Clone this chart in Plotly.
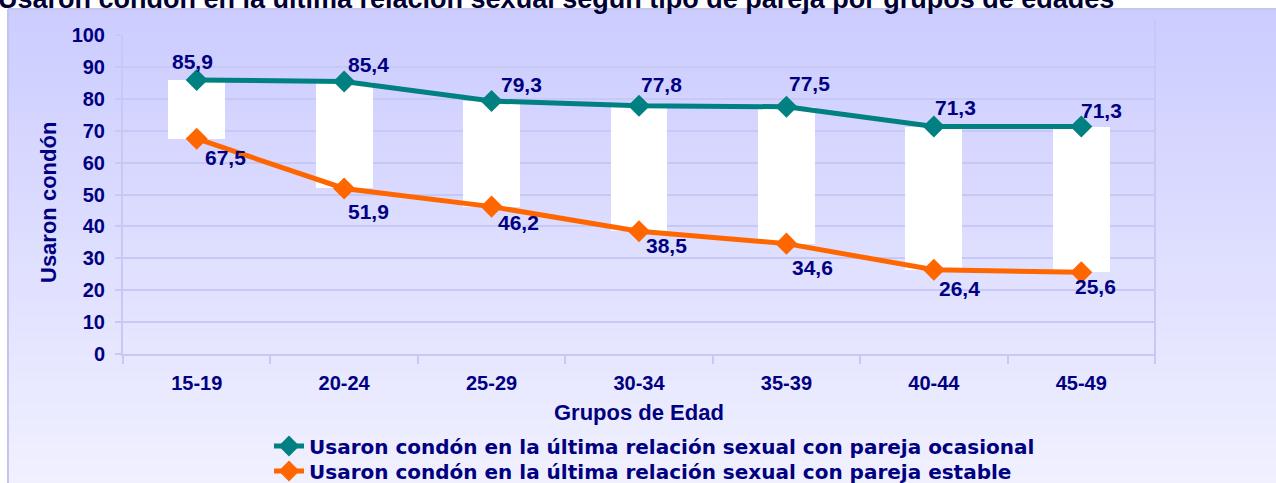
import plotly.graph_objects as go

categories = ["15-19", "20-24", "25-29", "30-34", "35-39", "40-44", "45-49"]
ocasional = [85.9, 85.4, 79.3, 77.8, 77.5, 71.3, 71.3]
estable = [67.5, 51.9, 46.2, 38.5, 34.6, 26.4, 25.6]
y_ticks = [0, 10, 20, 30, 40, 50, 60, 70, 80, 90, 100]

name_oc = "Usaron condón en la última relación sexual con pareja ocasional"
name_es = "Usaron condón en la última relación sexual con pareja estable"
title_text = "Usaron condón en la última relación sexual según tipo de pareja por grupos de edades"
x_title = "Grupos de Edad"
y_title = "Usaron condón"

TEAL = "#008080"
ORANGE = "#FF6600"
NAVY = "#000080"
FONT = "Liberation Sans, Arial, sans-serif"
WIDE = "DejaVu Sans, Liberation Sans, sans-serif"
GRID = "#C8C8F4"

W, H = 1276, 483
ML, MR, MT, MB = 123, 121, 35, 129
PW, PH = W - ML - MR, H - MT - MB

def px_x(p):
    return (p - ML) / PW

def px_y(p):
    return (H - MB - p) / PH

fig = go.Figure()

# high-low white bars
fig.add_trace(go.Bar(
    x=categories,
    y=[o - e for o, e in zip(ocasional, estable)],
    base=estable,
    width=0.385,
    marker=dict(color="white", line=dict(width=0)),
    showlegend=False,
    hoverinfo="skip",
))

fig.add_trace(go.Scatter(
    x=categories, y=ocasional, mode="lines+markers", name=name_oc,
    line=dict(color=TEAL, width=5),
    marker=dict(symbol="diamond", size=17, color=TEAL),
    legend="legend",
))
fig.add_trace(go.Scatter(
    x=categories, y=estable, mode="lines+markers", name=name_es,
    line=dict(color=ORANGE, width=5),
    marker=dict(symbol="diamond", size=17, color=ORANGE),
    legend="legend2",
))

# data labels
oc_shift = [(-4, 18), (24, 17), (30, 17), (22, 21), (23, 23), (22, 19), (20, 16)]
es_shift = [(29, -19), (24, -23), (27, -16), (27, -14), (26, -24), (26, -19), (14, -14)]

def fmt(v):
    return f"{v:.1f}".replace(".", ",")

for i, c in enumerate(categories):
    fig.add_annotation(x=c, y=ocasional[i], text=fmt(ocasional[i]), showarrow=False,
                       xshift=oc_shift[i][0], yshift=oc_shift[i][1],
                       font=dict(family=FONT, size=21, color=NAVY, weight="bold"))
    fig.add_annotation(x=c, y=estable[i], text=fmt(estable[i]), showarrow=False,
                       xshift=es_shift[i][0], yshift=es_shift[i][1],
                       font=dict(family=FONT, size=21, color=NAVY, weight="bold"))

# gradient background (chart area)
shapes = []
x0p, y0p = 8, 9
n = 60
top = (204, 204, 255)
bot = (240, 240, 255)
for k in range(n):
    t = k / (n - 1)
    col = tuple(round(top[j] + (bot[j] - top[j]) * t) for j in range(3))
    ya = y0p + (H - y0p) * k / n
    yb = y0p + (H - y0p) * (k + 1) / n + 1
    shapes.append(dict(type="rect", xref="paper", yref="paper", layer="below",
                       x0=px_x(x0p), x1=px_x(W + 5), y0=px_y(ya), y1=px_y(min(yb, H + 5)),
                       fillcolor=f"rgb{col}", line=dict(width=0)))
# frame lines
shapes.append(dict(type="line", xref="paper", yref="paper", layer="below",
                   x0=px_x(x0p), x1=px_x(W + 5), y0=px_y(y0p), y1=px_y(y0p),
                   line=dict(color="#C4C4EC", width=2)))
shapes.append(dict(type="line", xref="paper", yref="paper", layer="below",
                   x0=px_x(x0p), x1=px_x(x0p), y0=px_y(y0p), y1=px_y(H + 5),
                   line=dict(color="#C4C4EC", width=2)))
# right plot border
shapes.append(dict(type="line", xref="paper", yref="paper", layer="below",
                   x0=1, x1=1, y0=px_y(H - MB + 8), y1=px_y(20),
                   line=dict(color=GRID, width=2)))

legend_common = dict(
    xref="container", yref="container", xanchor="left", yanchor="middle",
    bgcolor="rgba(0,0,0,0)",
    font=dict(family=WIDE, size=20, color=NAVY, weight="bold"),
    itemwidth=30,
)

fig.update_layout(
    width=W, height=H,
    margin=dict(l=ML, r=MR, t=MT, b=MB, autoexpand=False),
    paper_bgcolor="white",
    plot_bgcolor="rgba(0,0,0,0)",
    shapes=shapes,
    bargap=0,
    font=dict(family=FONT, color=NAVY),
    showlegend=True,
    legend=dict(legend_common, x=269 / W, y=1 - 446 / H),
    legend2=dict(legend_common, x=269 / W, y=1 - 471 / H),
    xaxis=dict(
        type="category", automargin=False,
        tickfont=dict(family=FONT, size=20, color=NAVY, weight="bold"),
        ticks="outside", tickson="boundaries", ticklen=8, tickcolor=GRID, tickwidth=2,
        ticklabelstandoff=10,
        showline=True, linecolor=GRID, linewidth=2,
        showgrid=False,
    ),
    yaxis=dict(
        range=[0, 100], tickvals=y_ticks, automargin=False,
        tickfont=dict(family=FONT, size=20, color=NAVY, weight="bold"),
        ticks="outside", ticklen=6, tickcolor=GRID, tickwidth=2,
        ticklabelstandoff=6,
        showline=True, linecolor=GRID, linewidth=2,
        showgrid=True, gridcolor=GRID, gridwidth=2,
        zeroline=False,
    ),
)

# axis titles
fig.add_annotation(
    xref="paper", yref="paper", x=px_x(639), y=px_y(412), xanchor="center", yanchor="middle",
    text=x_title, showarrow=False,
    font=dict(family=FONT, size=22, color=NAVY, weight="bold"),
)
fig.add_annotation(
    xref="paper", yref="paper", x=px_x(48), y=px_y(203), xanchor="center", yanchor="middle",
    text=y_title, showarrow=False, textangle=-90,
    font=dict(family=FONT, size=22, color=NAVY, weight="bold"),
)

fig.add_annotation(
    xref="paper", yref="paper", x=px_x(-4), y=px_y(-1), xanchor="left", yanchor="middle",
    text=title_text, showarrow=False,
    font=dict(family=FONT, size=27, color="#000033", weight="bold"),
)

fig.write_html("out.html", config={"displayModeBar": False},
               post_script="document.body.style.margin='0';")
